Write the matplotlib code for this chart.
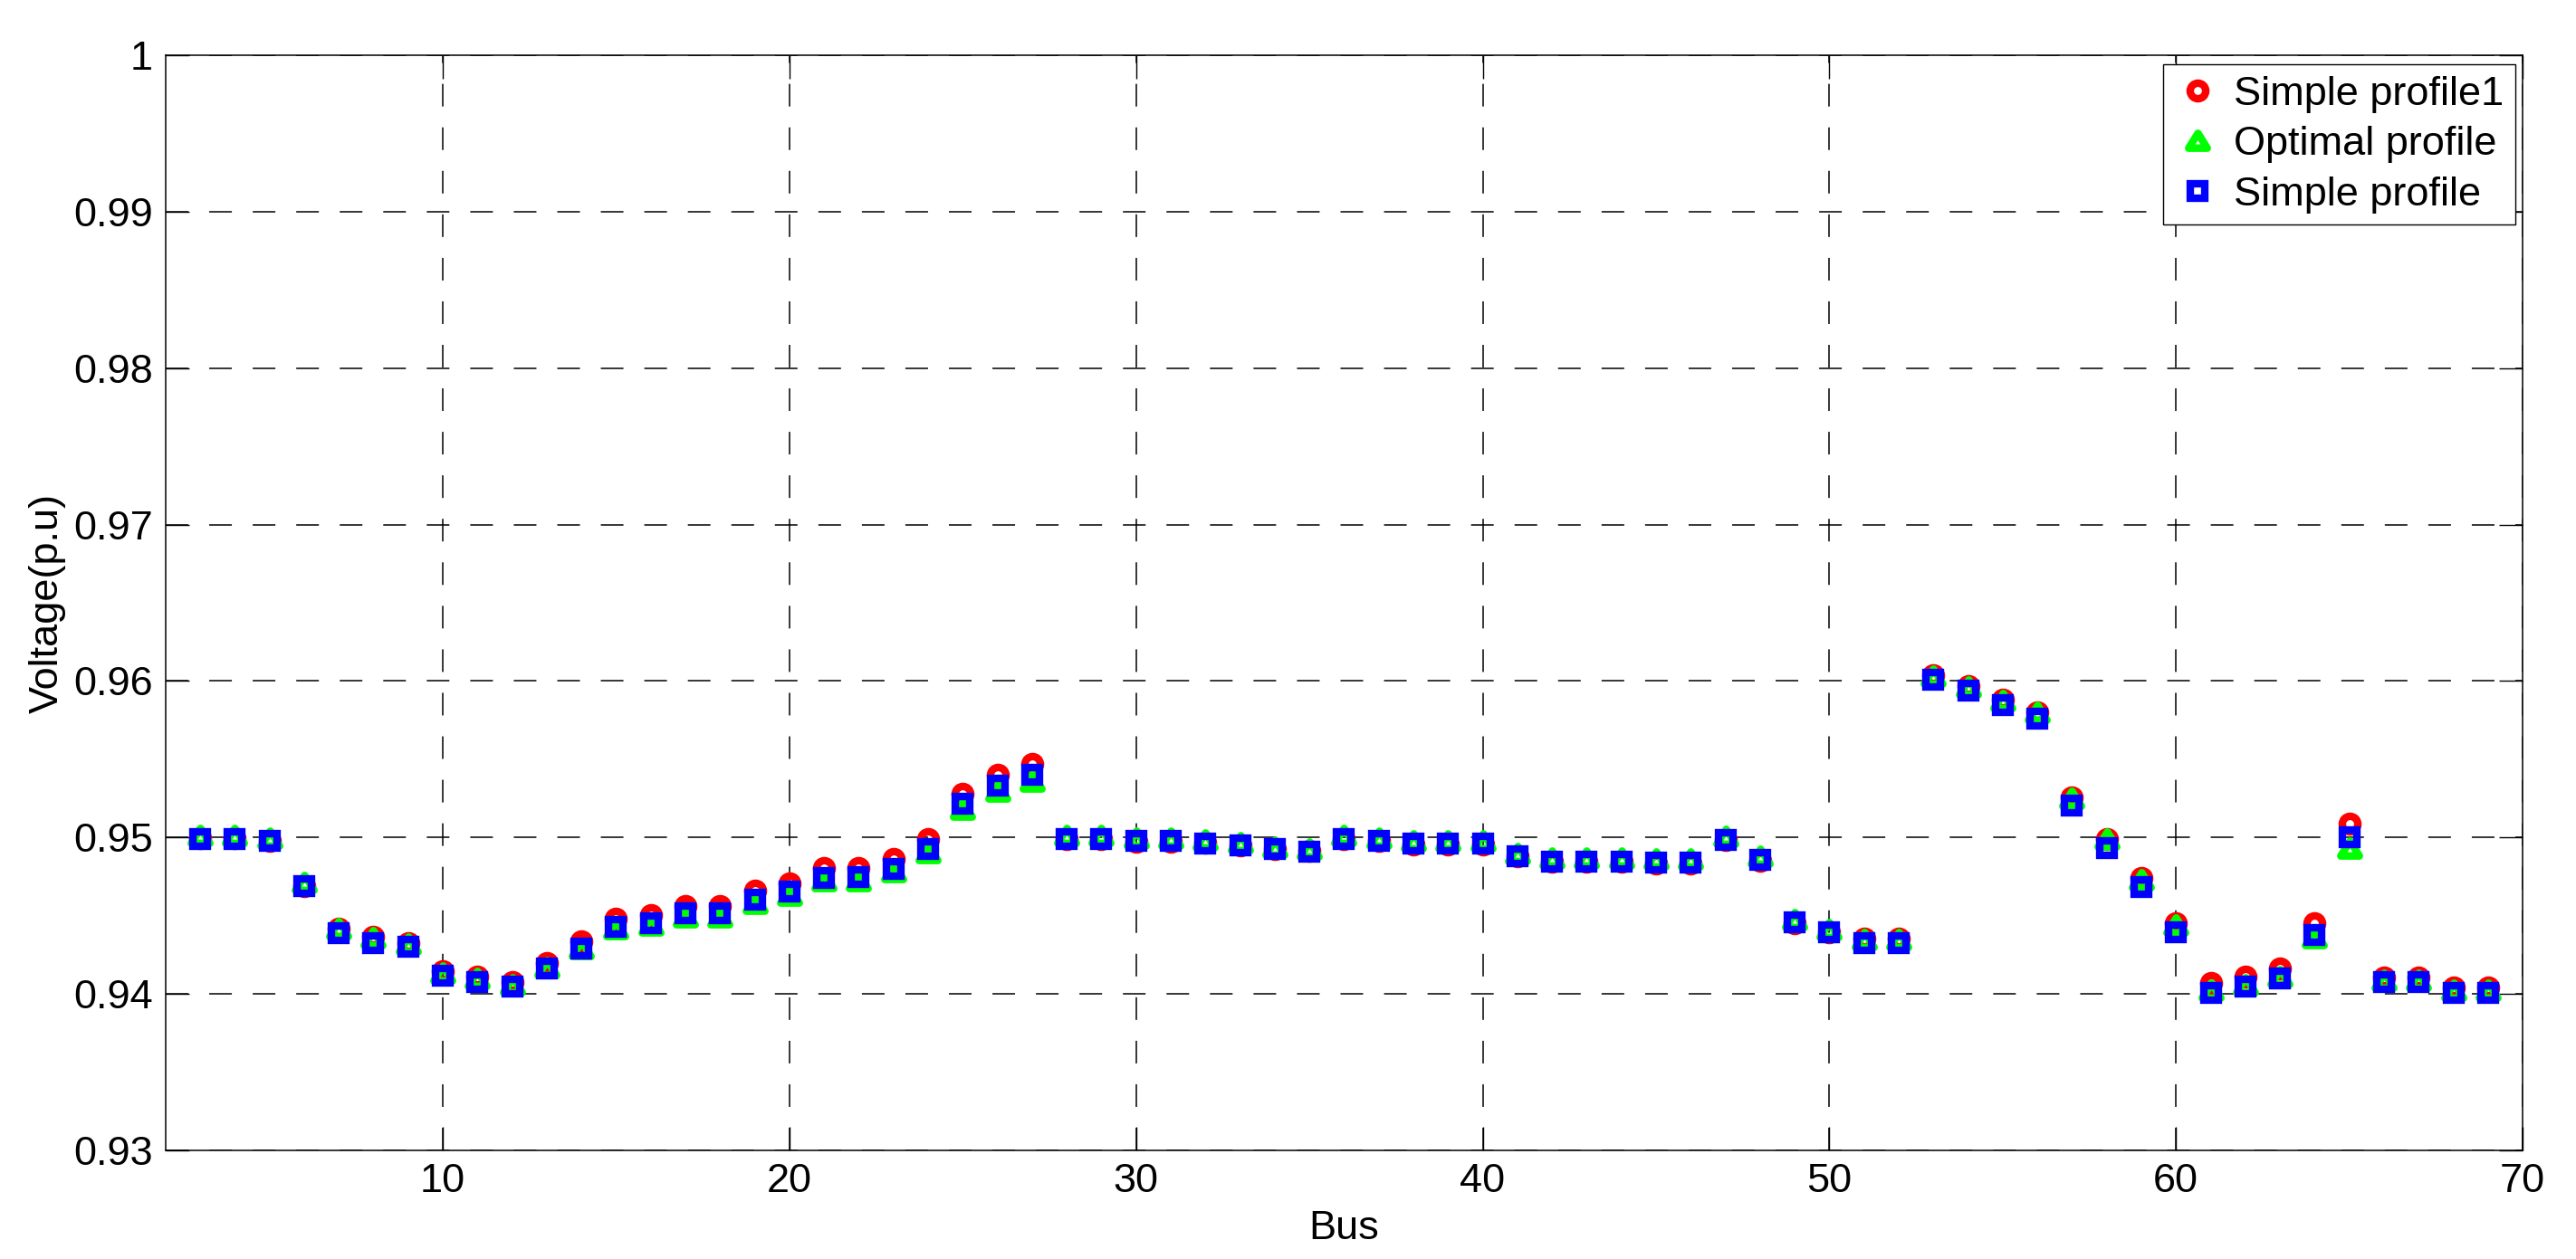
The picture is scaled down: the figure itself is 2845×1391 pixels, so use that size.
import numpy as np
import matplotlib
matplotlib.use("Agg")
import matplotlib.pyplot as plt
from matplotlib.path import Path

bus = list(range(3, 70))

simple_profile1 = [
    0.94995, 0.94995, 0.9498, 0.9469, 0.94418, 0.94364, 0.94323, 0.94145, 0.94108, 0.94075,
    0.94197, 0.94335, 0.94482, 0.94505, 0.94563, 0.94563, 0.94662, 0.94706, 0.94805, 0.94805,
    0.94863, 0.94988, 0.9528, 0.95402, 0.95471, 0.94988, 0.94988, 0.94973, 0.94973, 0.94965,
    0.94948, 0.94923, 0.94913, 0.94988, 0.94975, 0.94956, 0.94956, 0.94956, 0.9488, 0.94845,
    0.94845, 0.94845, 0.94834, 0.94834, 0.94985, 0.94851, 0.94451, 0.94393, 0.94353, 0.94353,
    0.96037, 0.95965, 0.95882, 0.95799, 0.95256, 0.94992, 0.94742, 0.94451, 0.94067, 0.9411,
    0.94163, 0.94453, 0.95085, 0.94104, 0.94104, 0.94041, 0.94041,
]

optimal_profile = [
    0.95013, 0.95013, 0.94994, 0.94714, 0.94418, 0.94356, 0.94317, 0.94133, 0.94097, 0.94058,
    0.94168, 0.9429, 0.94416, 0.94439, 0.94493, 0.94493, 0.9458, 0.94632, 0.94724, 0.94724,
    0.94782, 0.94903, 0.95182, 0.95298, 0.95361, 0.9501, 0.9501, 0.94994, 0.94994, 0.94981,
    0.94965, 0.9494, 0.94928, 0.9501, 0.94996, 0.94979, 0.94979, 0.94979, 0.94896, 0.94867,
    0.94867, 0.94867, 0.94861, 0.94861, 0.95006, 0.9488, 0.94474, 0.94411, 0.94347, 0.94347,
    0.9603, 0.95961, 0.95876, 0.95801, 0.95252, 0.9499, 0.9473, 0.94437, 0.94022, 0.94059,
    0.94112, 0.94356, 0.94929, 0.94089, 0.94089, 0.94022, 0.94022,
]

simple_profile = [
    0.9499, 0.9499, 0.9498, 0.9469, 0.9439, 0.94325, 0.9430, 0.94116, 0.94077, 0.94044,
    0.94163, 0.9429, 0.94426, 0.94453, 0.94513, 0.94513, 0.9460, 0.94656, 0.94743, 0.94749,
    0.94801, 0.94927, 0.95213, 0.95332, 0.9540, 0.9499, 0.9499, 0.94975, 0.94975, 0.94963,
    0.94946, 0.94923, 0.94911, 0.9499, 0.94976, 0.94959, 0.94959, 0.94959, 0.9488, 0.94845,
    0.94845, 0.94845, 0.94838, 0.94838, 0.94983, 0.94855, 0.94455, 0.94391, 0.94325, 0.94325,
    0.96008, 0.95937, 0.95846, 0.9576, 0.95205, 0.94931, 0.94683, 0.94392, 0.94008, 0.94045,
    0.94096, 0.94374, 0.9500, 0.94077, 0.94077, 0.94008, 0.94008,
]

x_ticks = [10, 20, 30, 40, 50, 60, 70]
y_ticks = [0.93, 0.94, 0.95, 0.96, 0.97, 0.98, 0.99, 1.0]
y_tick_labels = ["0.93", "0.94", "0.95", "0.96", "0.97", "0.98", "0.99", "1"]

plt.rcParams["font.family"] = ["Liberation Sans", "DejaVu Sans"]
plt.rcParams["font.size"] = 32.5
plt.rcParams["lines.scale_dashes"] = False

# MATLAB-like triangle: wider than tall
tri = Path([(-1, -0.8), (1, -0.8), (0, 0.8), (-1, -0.8)],
           [Path.MOVETO, Path.LINETO, Path.LINETO, Path.CLOSEPOLY])

fig = plt.figure(figsize=(28.45, 13.91), dpi=100)
ax = fig.add_axes([0.0642, 0.0865, 0.9793 - 0.0642, 0.9559 - 0.0865])

mew = 6.0
ax.plot(bus, simple_profile1, linestyle="none", marker="o", markersize=12.4,
        markerfacecolor="none", markeredgecolor=(1, 0, 0), markeredgewidth=mew,
        label="Simple profile1", zorder=3)
ax.plot(bus, optimal_profile, linestyle="none", marker=tri, markersize=14.8,
        markerfacecolor="none", markeredgecolor=(0, 1, 0), markeredgewidth=mew,
        label="Optimal profile", zorder=4)
ax.plot(bus, simple_profile, linestyle="none", marker="s", markersize=11.2,
        markerfacecolor="none", markeredgecolor=(0, 0, 1), markeredgewidth=mew,
        label="Simple profile", zorder=5)

ax.set_xlim(2, 70)
ax.set_ylim(0.93, 1.0)
ax.set_xticks(x_ticks)
ax.set_yticks(y_ticks)
ax.set_yticklabels(y_tick_labels)

ax.grid(True, color="black", linestyle=(0, (18, 16.6)), linewidth=1.1, zorder=1)
ax.set_axisbelow(True)
ax.tick_params(direction="in", length=18.7, width=1.0, top=True, right=True,
               pad=10, colors="black")
for s in ax.spines.values():
    s.set_linewidth(1.1)
    s.set_color("black")

ax.set_xlabel("Bus", labelpad=8)
ax.set_ylabel("Voltage(p.u)", labelpad=6)

leg = ax.legend(loc="upper right", bbox_to_anchor=(0.9969, 0.992), borderaxespad=0,
                fancybox=False, framealpha=1, edgecolor="black", numpoints=1,
                handlelength=1.1, handletextpad=0.35, labelspacing=0.32, borderpad=0.28)
leg.get_frame().set_linewidth(1.0)

fig.savefig("out.png", dpi=100)
